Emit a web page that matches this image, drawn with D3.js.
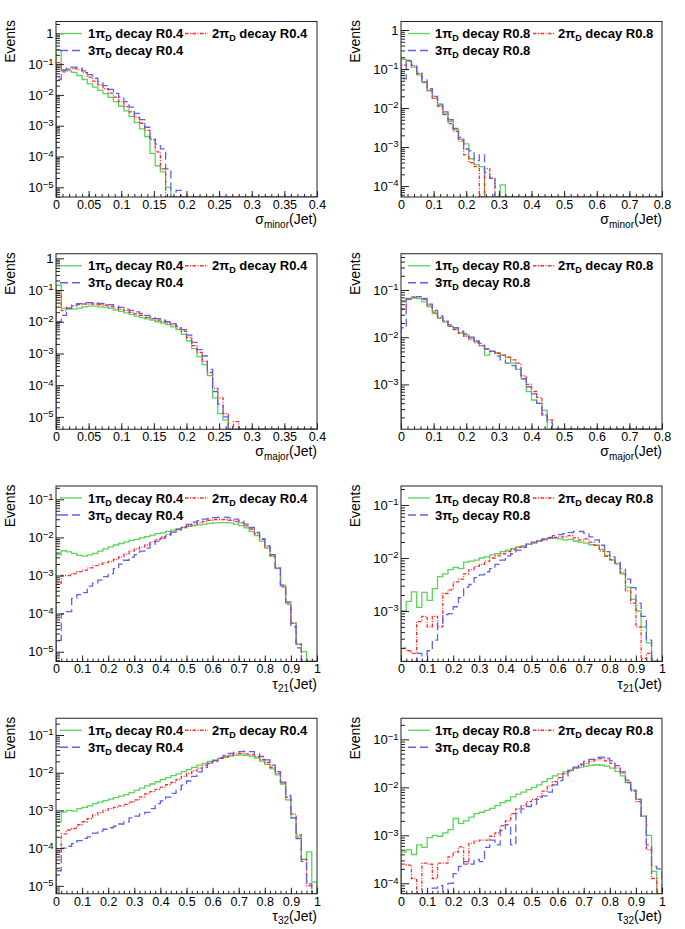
<!DOCTYPE html>
<html><head><meta charset="utf-8">
<script src="https://cdn.jsdelivr.net/npm/d3@7"></script>
<style>
body{margin:0;background:#fff}
svg text{font-family:"Liberation Sans",Arial,Helvetica,sans-serif;fill:#000}
</style>
</head><body>
<svg id="c" width="685" height="929"></svg>
<script>
// ---- DATA: log10(Events fraction) per bin, null = empty bin ----
const seriesNames = ["1π", "2π", "3π"];
const xTitleSubs = ["minor", "minor", "major", "major", "21", "21", "32", "32"];
const xTitleSyms = ["σ", "σ", "σ", "σ", "τ", "τ", "τ", "τ"];
const radii = ["R0.4", "R0.8", "R0.4", "R0.8", "R0.4", "R0.8", "R0.4", "R0.8"];
const xMaxes = [0.4, 0.8, 0.4, 0.8, 1, 1, 1, 1];
const xMajorSteps = [0.05, 0.1, 0.05, 0.1, 0.1, 0.1, 0.1, 0.1];
const xMinorSteps = [0.01, 0.02, 0.01, 0.02, 0.02, 0.02, 0.02, 0.02];
const yLog = [[-5.315, 0.383], [-4.28, 0.218], [-5.39, 0.144], [-3.95, -0.232],
              [-5.257, -0.651], [-3.953, -0.642], [-5.21, -0.556], [-4.218, -0.561]];
const nBins = 50;

// Panel 1: sigma_minor R0.4
const p1g = [-0.55,-1.2,-1.22,-1.27,-1.37,-1.5,-1.64,-1.75,-1.85,-1.96,-2.08,-2.22,-2.36,-2.52,-2.7,-2.9,-3.1,-3.35,-3.9,-4.3,-4.5,-5.0];
const p1r = [-0.95,-1.25,-1.16,-1.15,-1.18,-1.28,-1.42,-1.55,-1.67,-1.8,-1.94,-2.07,-2.22,-2.38,-2.55,-2.73,-2.92,-3.15,-3.45,-3.85,-4.4];
const p1b = [-1.5,-1.2,-1.1,-1.1,-1.13,-1.22,-1.34,-1.46,-1.58,-1.7,-1.82,-1.95,-2.07,-2.22,-2.4,-2.6,-2.8,-3.05,-3.4,-3.6,-3.75,-4.4,null,-5.1];
// Panel 2: sigma_minor R0.8
const p2g = [-0.75,-0.8,-0.95,-1.15,-1.35,-1.55,-1.75,-1.95,-2.15,-2.35,-2.55,-2.8,-2.92,-3.3,-3.45,-3.5,null,null,null,-3.97];
const p2r = [-0.9,-0.78,-0.92,-1.12,-1.33,-1.55,-1.75,-1.95,-2.17,-2.4,-2.6,-2.85,-3.2,-3.4,-3.5,null,-3.55,-3.8];
const p2b = [-1.25,-0.8,-0.9,-1.08,-1.28,-1.5,-1.7,-1.9,-2.1,-2.3,-2.52,-2.75,-3.05,-3.1,-3.35,-3.2,-3.65,-3.8];
// Panel 3: sigma_major R0.4
const p3g = [-0.85,-1.58,-1.6,-1.6,-1.57,-1.53,-1.51,-1.51,-1.53,-1.55,-1.58,-1.63,-1.67,-1.72,-1.77,-1.82,-1.87,-1.91,-1.95,-2.0,-2.04,-2.09,-2.16,-2.25,-2.4,-2.6,-2.85,-3.1,-3.35,-3.7,-4.4,-4.9,-5.1];
const p3r = [-1.1,-1.65,-1.55,-1.5,-1.46,-1.44,-1.44,-1.44,-1.46,-1.48,-1.52,-1.56,-1.61,-1.65,-1.7,-1.75,-1.8,-1.86,-1.9,-1.95,-1.99,-2.04,-2.1,-2.2,-2.3,-2.5,-2.75,-2.97,-3.25,-3.6,-4.1,-4.4,-4.9,null,-5.15];
const p3b = [-2.0,-1.8,-1.58,-1.48,-1.43,-1.4,-1.4,-1.4,-1.42,-1.43,-1.46,-1.5,-1.55,-1.6,-1.64,-1.69,-1.74,-1.8,-1.85,-1.9,-1.95,-2.0,-2.06,-2.14,-2.25,-2.42,-2.65,-2.88,-3.08,-3.5,-4.2,-4.6,-5.0];
// Panel 4: sigma_major R0.8
const p4g = [-1.25,-1.18,-1.17,-1.18,-1.25,-1.35,-1.5,-1.6,-1.68,-1.77,-1.83,-1.9,-1.95,-2.02,-2.1,-2.18,-2.38,-2.3,-2.33,-2.38,-2.43,-2.55,-2.68,-2.88,-3.15,-3.33,-3.4,-3.55];
const p4r = [-1.4,-1.19,-1.15,-1.14,-1.2,-1.32,-1.47,-1.58,-1.66,-1.77,-1.84,-1.92,-1.98,-2.05,-2.12,-2.18,-2.25,-2.3,-2.34,-2.38,-2.42,-2.48,-2.55,-2.82,-3.0,-3.15,-3.28,-3.65,-3.75];
const p4b = [-1.8,-1.2,-1.15,-1.14,-1.18,-1.3,-1.43,-1.55,-1.65,-1.74,-1.8,-1.87,-1.93,-2.0,-2.08,-2.13,-2.25,-2.3,-2.4,-2.48,-2.55,-2.6,-2.68,-2.88,-3.05,-3.2,-3.4,-3.62,-3.8];
// Panel 5: tau_21 R0.4
const p5g = [-2.45,-2.35,-2.38,-2.42,-2.47,-2.49,-2.46,-2.42,-2.36,-2.3,-2.25,-2.2,-2.16,-2.12,-2.08,-2.05,-2.01,-1.98,-1.94,-1.9,-1.88,-1.84,-1.81,-1.77,-1.74,-1.71,-1.69,-1.67,-1.65,-1.63,-1.62,-1.61,-1.61,-1.62,-1.65,-1.69,-1.75,-1.84,-1.95,-2.1,-2.28,-2.5,-2.82,-3.25,-3.7,-4.25,-4.8,-5.0];
const p5r = [-3.2,-3.0,-3.0,-2.95,-2.9,-2.86,-2.8,-2.74,-2.7,-2.66,-2.63,-2.58,-2.51,-2.44,-2.36,-2.3,-2.25,-2.2,-2.12,-2.05,-1.98,-1.92,-1.86,-1.8,-1.74,-1.7,-1.65,-1.61,-1.58,-1.55,-1.53,-1.53,-1.53,-1.55,-1.58,-1.62,-1.7,-1.78,-1.9,-2.05,-2.25,-2.47,-2.8,-3.3,-3.75,-4.25,-4.8];
const p5b = [-4.7,-4.0,-3.95,-3.6,-3.5,-3.45,-3.28,-3.2,-3.12,-3.03,-2.95,-2.82,-2.7,-2.6,-2.52,-2.45,-2.36,-2.28,-2.18,-2.1,-2.02,-1.94,-1.86,-1.79,-1.71,-1.66,-1.6,-1.56,-1.52,-1.5,-1.48,-1.47,-1.47,-1.49,-1.52,-1.57,-1.65,-1.74,-1.87,-2.03,-2.22,-2.45,-2.8,-3.25,-3.7,-4.35,-4.9];
// Panel 6: tau_21 R0.8
const p6g = [-3.0,-2.82,-2.64,-2.93,-2.65,-2.8,-2.58,-2.35,-2.3,-2.22,-2.18,-2.2,-2.08,-2.06,-2.04,-2.0,-1.98,-1.94,-1.92,-1.88,-1.85,-1.82,-1.79,-1.77,-1.74,-1.72,-1.68,-1.65,-1.62,-1.63,-1.64,-1.66,-1.65,-1.68,-1.7,-1.72,-1.75,-1.76,-1.84,-1.95,-2.04,-2.1,-2.3,-2.55,-2.78,-3.0,-3.3,-3.6];
const p6r = [-3.7,-3.75,-3.8,-3.2,-3.1,-3.3,-3.1,-3.3,-2.67,-2.6,-2.45,-2.4,-2.3,-2.22,-2.16,-2.12,-2.06,-2.0,-1.96,-1.92,-1.88,-1.84,-1.8,-1.77,-1.74,-1.71,-1.68,-1.66,-1.63,-1.61,-1.6,-1.6,-1.58,-1.62,-1.66,-1.64,-1.7,-1.76,-1.87,-1.97,-2.03,-2.12,-2.28,-2.62,-2.85,-3.3,-3.9,-3.8];
const p6b = [null,null,null,-3.8,null,-3.75,-3.55,-3.23,-3.07,-3.05,-2.92,-2.75,-2.55,-2.5,-2.37,-2.32,-2.26,-2.2,-2.12,-2.04,-1.96,-1.92,-1.85,-1.8,-1.74,-1.7,-1.67,-1.64,-1.61,-1.58,-1.56,-1.54,-1.52,-1.5,-1.5,-1.53,-1.6,-1.66,-1.76,-1.88,-1.98,-2.08,-2.2,-2.4,-2.56,-2.85,-3.1,-3.55];
// Panel 7: tau_32 R0.4
const p7g = [-3.3,-3.04,-3.0,-3.02,-2.95,-2.92,-2.88,-2.82,-2.78,-2.74,-2.7,-2.66,-2.62,-2.58,-2.53,-2.47,-2.41,-2.35,-2.3,-2.24,-2.18,-2.13,-2.08,-2.03,-1.97,-1.92,-1.86,-1.8,-1.75,-1.7,-1.66,-1.62,-1.59,-1.56,-1.54,-1.53,-1.54,-1.56,-1.61,-1.69,-1.78,-1.9,-2.06,-2.3,-2.72,-3.2,-3.7,-4.3,-4.1,-4.9];
const p7r = [-4.1,-3.62,-3.52,-3.48,-3.38,-3.3,-3.22,-3.12,-3.06,-3.0,-2.95,-2.92,-2.88,-2.84,-2.78,-2.72,-2.64,-2.56,-2.5,-2.44,-2.38,-2.32,-2.26,-2.18,-2.1,-2.02,-1.95,-1.88,-1.8,-1.74,-1.69,-1.62,-1.57,-1.53,-1.5,-1.49,-1.5,-1.52,-1.57,-1.65,-1.73,-1.86,-2.02,-2.27,-2.65,-3.1,-3.65,-4.3,-5.0];
const p7b = [-4.6,-4.0,-3.95,-3.88,-3.8,-3.74,-3.7,-3.6,-3.55,-3.5,-3.46,-3.42,-3.36,-3.3,-3.2,-3.15,-3.1,-3.05,-2.95,-2.82,-2.75,-2.65,-2.55,-2.45,-2.33,-2.22,-2.1,-1.98,-1.86,-1.76,-1.68,-1.6,-1.54,-1.49,-1.46,-1.44,-1.43,-1.44,-1.5,-1.57,-1.66,-1.8,-1.97,-2.25,-2.6,-3.2,-3.75,-4.35,-4.95];
// Panel 8: tau_32 R0.8
const p8g = [-3.35,-3.3,-3.4,-3.2,-3.25,-3.05,-3.0,-3.02,-2.95,-2.88,-2.65,-2.75,-2.7,-2.62,-2.55,-2.52,-2.48,-2.44,-2.38,-2.32,-2.28,-2.2,-2.14,-2.1,-2.05,-2.0,-1.95,-1.88,-1.82,-1.76,-1.72,-1.68,-1.64,-1.6,-1.58,-1.56,-1.54,-1.53,-1.54,-1.56,-1.6,-1.67,-1.76,-1.9,-2.06,-2.25,-2.6,-3.0,-3.75];
const p8r = [-3.6,-3.62,-3.9,null,-3.58,-3.6,-3.9,-3.58,-3.58,-3.45,-3.35,-3.24,-3.6,-3.17,-3.12,-3.1,-3.1,-3.02,-2.95,-2.8,-2.7,-2.55,-2.45,-2.38,-2.3,-2.25,-2.2,-2.08,-1.97,-1.88,-1.8,-1.72,-1.65,-1.6,-1.55,-1.5,-1.46,-1.43,-1.4,-1.45,-1.5,-1.6,-1.7,-1.9,-2.08,-2.3,-2.6,-3.3,-3.9];
const p8b = [null,null,null,null,null,null,-4.1,-4.05,null,-4.0,-3.8,-3.65,-3.55,-3.6,-3.5,-3.55,-3.25,-3.1,-3.2,-2.9,-2.78,-3.2,-2.55,-2.45,-2.4,-2.35,-2.25,-2.18,-2.1,-1.95,-1.86,-1.76,-1.66,-1.58,-1.52,-1.46,-1.42,-1.38,-1.37,-1.4,-1.45,-1.55,-1.68,-1.85,-2.05,-2.25,-2.6,-3.2,-3.65,-3.7];

const panelData = [[p1g,p1r,p1b],[p2g,p2r,p2b],[p3g,p3r,p3b],[p4g,p4r,p4b],
                   [p5g,p5r,p5b],[p6g,p6r,p6b],[p7g,p7r,p7b],[p8g,p8r,p8b]];

// ---- STYLE / LAYOUT ----
const colors = ["#5ad45a", "#ff2a2a", "#6060f0"];
const dashes = [null, "3.5,1.5,1,1.5", "8,4"];
const cols = [{x0:56, x1:317, evX:14.5, leg:[[60,82,88],[185,208,212]]},
              {x0:401, x1:662, evX:360, leg:[[408,430,435],[533,555,558]]}];
const rowY = [0, 232.25, 464.5, 696.75];
const fTop = 21.5, fBot = 197;

const svg = d3.select("#c");

panelData.forEach((series, p) => {
  const col = cols[p % 2], ry = rowY[Math.floor(p / 2)];
  const xMax = xMaxes[p];
  const [lo, hi] = yLog[p];
  const yMin = Math.pow(10, lo);
  const x = d3.scaleLinear().domain([0, xMax]).range([col.x0, col.x1]);
  const y = d3.scaleLog().domain([yMin, Math.pow(10, hi)]).range([ry + fBot, ry + fTop]).clamp(true);
  const g = svg.append("g");

  const cid = "clip" + p;
  svg.append("clipPath").attr("id", cid).append("rect")
    .attr("x", col.x0).attr("y", ry + fTop).attr("width", col.x1 - col.x0).attr("height", fBot - fTop);

  // histograms
  const w = xMax / nBins;
  series.forEach((arr, s) => {
    const vals = d3.range(nBins).map(i => (arr[i] === null || arr[i] === undefined) ? 0 : Math.pow(10, arr[i]));
    const pts = [[0, yMin]];
    vals.forEach((v, i) => pts.push([i * w, Math.max(v, yMin)]));
    pts.push([xMax, Math.max(vals[nBins - 1], yMin)]);
    pts.push([xMax, yMin]);
    const line = d3.line().x(d => x(d[0])).y(d => y(d[1])).curve(d3.curveStepAfter);
    g.append("path").attr("d", line(pts)).attr("fill", "none")
      .attr("stroke", colors[s]).attr("stroke-width", 1.3)
      .attr("stroke-dasharray", dashes[s]).attr("clip-path", `url(#${cid})`);
  });

  // frame
  g.append("rect").attr("x", col.x0).attr("y", ry + fTop)
    .attr("width", col.x1 - col.x0).attr("height", fBot - fTop)
    .attr("fill", "none").attr("stroke", "#222").attr("stroke-width", 1);

  // x axis
  const nMaj = Math.round(xMax / xMajorSteps[p]);
  const majors = d3.range(nMaj + 1).map(i => +(i * xMajorSteps[p]).toFixed(3));
  const nMin = Math.round(xMax / xMinorSteps[p]);
  const minors = d3.range(nMin + 1).map(i => +(i * xMinorSteps[p]).toFixed(3));
  const xa = g.append("g").attr("transform", `translate(0,${ry + fBot})`)
    .call(d3.axisBottom(x).tickValues(majors).tickSizeInner(-6).tickSizeOuter(0).tickPadding(3)
      .tickFormat(v => String(+v.toFixed(3))));
  xa.select(".domain").remove();
  xa.selectAll("text").attr("font-size", 12.5).style("font-family", '"Liberation Sans",Arial,sans-serif');
  xa.selectAll("line").attr("stroke", "#222");
  const xm = g.append("g").attr("transform", `translate(0,${ry + fBot})`)
    .call(d3.axisBottom(x).tickValues(minors).tickSizeInner(-3).tickSizeOuter(0).tickFormat(""));
  xm.select(".domain").remove();
  xm.selectAll("line").attr("stroke", "#222");

  // y axis
  const decades = d3.range(Math.ceil(lo), Math.floor(hi) + 1);
  const yMaj = decades.map(k => Math.pow(10, k));
  const yMinors = [];
  d3.range(Math.floor(lo), Math.ceil(hi) + 1).forEach(k => {
    for (let m = 2; m <= 9; m++) {
      const v = m * Math.pow(10, k);
      if (Math.log10(v) >= lo && Math.log10(v) <= hi) yMinors.push(v);
    }
  });
  const ya = g.append("g").attr("transform", `translate(${col.x0},0)`)
    .call(d3.axisLeft(y).tickValues(yMaj).tickSizeInner(-8).tickSizeOuter(0).tickFormat(""));
  ya.select(".domain").remove();
  ya.selectAll("line").attr("stroke", "#222");
  const ym = g.append("g").attr("transform", `translate(${col.x0},0)`)
    .call(d3.axisLeft(y).tickValues(yMinors).tickSizeInner(-4).tickSizeOuter(0).tickFormat(""));
  ym.select(".domain").remove();
  ym.selectAll("line").attr("stroke", "#222");

  decades.forEach(k => {
    const t = g.append("text").attr("x", col.x0 - 2.5).attr("y", y(Math.pow(10, k)))
      .attr("dy", "0.36em").attr("text-anchor", "end").attr("font-size", 13);
    if (k === 0) t.text("1");
    else {
      t.append("tspan").text("10");
      t.append("tspan").attr("dy", "-0.45em").attr("font-size", 9.5).text("−" + Math.abs(k));
    }
  });

  // axis titles
  const xt = g.append("text").attr("x", col.x1).attr("y", ry + 224)
    .attr("text-anchor", "end").attr("font-size", 14);
  xt.append("tspan").text(xTitleSyms[p]);
  xt.append("tspan").attr("dy", 3.5).attr("font-size", 10).text(xTitleSubs[p]);
  xt.append("tspan").attr("dy", -3.5).text("(Jet)");

  g.append("text").attr("transform", `translate(${col.evX},${ry + 20}) rotate(-90)`)
    .attr("text-anchor", "end").attr("font-size", 14).text("Events");

  // legend
  const legPos = [[0, 33.5], [1, 33.5], [0, 50.5]];
  seriesNames.forEach((nm, s) => {
    const [ci, ly] = legPos[s];
    const [a, b, tx] = col.leg[ci];
    g.append("line").attr("x1", a).attr("x2", b).attr("y1", ry + ly).attr("y2", ry + ly)
      .attr("stroke", colors[s]).attr("stroke-width", 1.3).attr("stroke-dasharray", dashes[s]);
    const t = g.append("text").attr("x", tx).attr("y", ry + ly + 4.5)
      .attr("font-size", 13).attr("font-weight", "bold");
    t.append("tspan").text(nm);
    t.append("tspan").attr("dy", 3).attr("font-size", 9).text("D");
    t.append("tspan").attr("dy", -3).text(" decay " + radii[p]);
  });
});
</script>
</body></html>
